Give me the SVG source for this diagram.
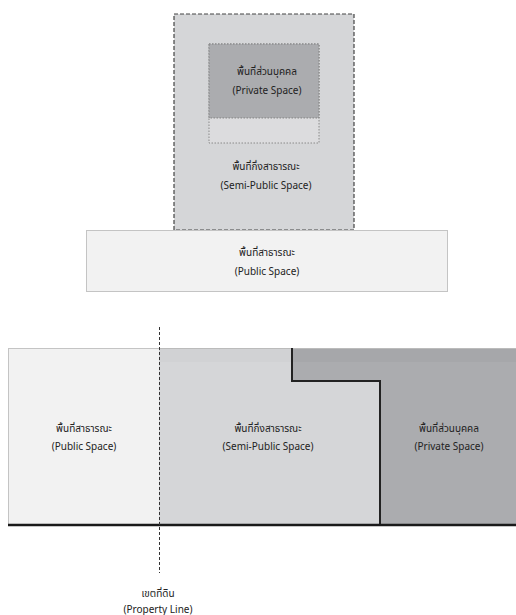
<svg xmlns="http://www.w3.org/2000/svg" width="516" height="615" viewBox="0 0 516 615">
<style>
text{font-family:"Noto Sans","Noto Sans Thai","Loma","Garuda","Tahoma","DejaVu Sans",sans-serif;font-size:10px;fill:#222;text-anchor:middle}
.pub{fill:#f2f2f2}
.semi{fill:#d5d6d8}
.priv{fill:#abacaf}
</style>
<rect width="516" height="615" fill="#ffffff"/>
<g id="top-semi-public">
<rect x="174" y="14" width="180" height="216" class="semi" stroke="#444" stroke-width="1.2" stroke-dasharray="4 2"/>
<text x="266" y="170">พื้นที่กึ่งสาธารณะ</text>
<text x="266" y="189">(Semi-Public Space)</text>
</g>
<g id="top-private">
<rect x="209" y="44" width="110" height="99" fill="#dcdcde" stroke="#777" stroke-width="0.8" stroke-dasharray="1.5 1.5"/>
<rect x="209" y="44" width="110" height="74" class="priv" stroke="#777" stroke-width="0.8" stroke-dasharray="1.5 1.5"/>
<text x="267" y="75">พื้นที่ส่วนบุคคล</text>
<text x="267" y="94">(Private Space)</text>
</g>
<g id="top-public">
<rect x="86.5" y="230.5" width="361" height="61" class="pub" stroke="#c4c4c4" stroke-width="1"/>
<text x="267" y="256">พื้นที่สาธารณะ</text>
<text x="267" y="275">(Public Space)</text>
</g>
<g id="bottom-public">
<rect x="8.5" y="348.5" width="151" height="177" class="pub" stroke="#c4c4c4" stroke-width="1"/>
<text x="84" y="432">พื้นที่สาธารณะ</text>
<text x="84" y="450">(Public Space)</text>
</g>
<g id="bottom-semi-public">
<rect x="159" y="348" width="221" height="177" class="semi"/>
<rect x="159" y="348" width="221" height="14" fill="#000" opacity="0.015"/>
<text x="268" y="432">พื้นที่กึ่งสาธารณะ</text>
<text x="268" y="450">(Semi-Public Space)</text>
</g>
<g id="bottom-private">
<path d="M292 348 H516 V525 H380 V381 H292 Z" class="priv"/>
<rect x="292" y="348" width="224" height="14" fill="#000" opacity="0.025"/>
<line x1="159" y1="348.5" x2="516" y2="348.5" stroke="#bbb" stroke-width="1"/>
<text x="449" y="432">พื้นที่ส่วนบุคคล</text>
<text x="449" y="450">(Private Space)</text>
</g>
<g id="connectors">
<path d="M292 348 V381 H380 V525" fill="none" stroke="#222" stroke-width="2"/>
<line x1="8" y1="525" x2="516" y2="525" stroke="#1a1a1a" stroke-width="2.5"/>
<line x1="159.5" y1="327" x2="159.5" y2="573" stroke="#333" stroke-width="1" stroke-dasharray="3 2"/>
</g>
<g id="property-line">
<text x="158" y="597">เขตที่ดิน</text>
<text x="158" y="613">(Property Line)</text>
</g>
</svg>
